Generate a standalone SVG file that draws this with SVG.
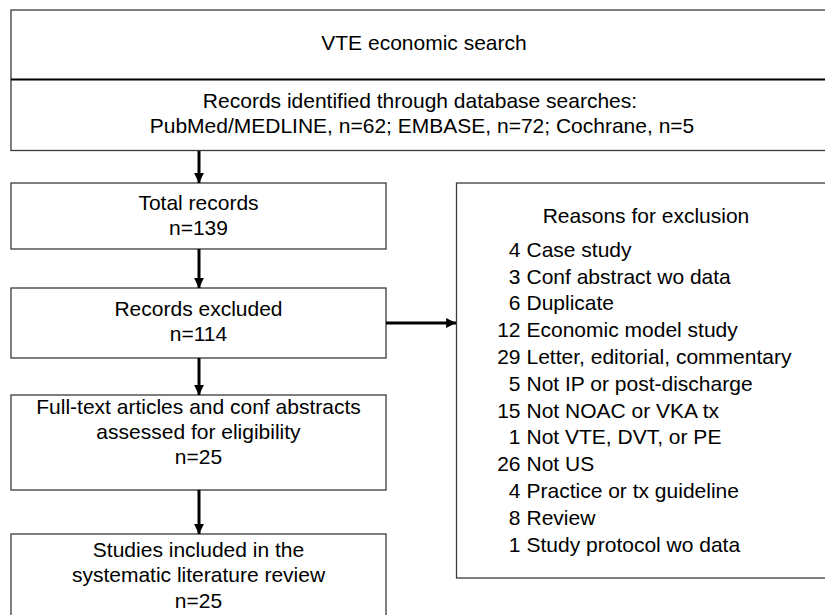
<svg xmlns="http://www.w3.org/2000/svg" width="825" height="615" viewBox="0 0 825 615">
<defs>
<style>
.box{fill:#fff;stroke:#3a3a3a;stroke-width:1.3}
.t{font-family:"Liberation Sans",Arial,sans-serif;font-size:21px;fill:#000}
.c{text-anchor:middle}
.e{text-anchor:end}
.conn{stroke:#000;stroke-width:3;fill:none}
</style>
<marker id="ah" viewBox="0 0 10 10" refX="10" refY="5" markerWidth="3.7" markerHeight="3.3" orient="auto" markerUnits="strokeWidth">
<path d="M0,0 L10,5 L0,10 Z" fill="#000"/>
</marker>
</defs>
<rect width="825" height="615" fill="#fff"/>
<g id="search">
<rect class="box" x="11" y="10" width="830" height="140.5"/>
<line x1="11" y1="79.5" x2="841" y2="79.5" stroke="#000" stroke-width="2"/>
<text class="t c" x="424" y="50">VTE economic search</text>
<text class="t c" x="420" y="108">Records identified through database searches:</text>
<text class="t c" x="422" y="133">PubMed/MEDLINE, n=62; EMBASE, n=72; Cochrane, n=5</text>
</g>
<g id="total">
<rect class="box" x="11" y="183" width="375" height="66"/>
<text class="t c" x="198.5" y="210">Total records</text>
<text class="t c" x="198.5" y="235">n=139</text>
</g>
<g id="excluded">
<rect class="box" x="11" y="288" width="375" height="70"/>
<text class="t c" x="198.5" y="316">Records excluded</text>
<text class="t c" x="198.5" y="340.5">n=114</text>
</g>
<g id="fulltext">
<rect class="box" x="11" y="395" width="375" height="95"/>
<text class="t c" x="198.5" y="414">Full-text articles and conf abstracts</text>
<text class="t c" x="198.5" y="439">assessed for eligibility</text>
<text class="t c" x="198.5" y="464">n=25</text>
</g>
<g id="included">
<rect class="box" x="11" y="534" width="375" height="100"/>
<text class="t c" x="198.5" y="557">Studies included in the</text>
<text class="t c" x="198.5" y="582">systematic literature review</text>
<text class="t c" x="198.5" y="607.5">n=25</text>
</g>
<g id="reasons">
<rect class="box" x="456.5" y="183" width="390" height="395"/>
<text class="t c" x="646" y="223">Reasons for exclusion</text>
<text class="t e" x="520.5" y="256.7">4</text><text class="t" x="526.5" y="256.7">Case study</text>
<text class="t e" x="520.5" y="283.5">3</text><text class="t" x="526.5" y="283.5">Conf abstract wo data</text>
<text class="t e" x="520.5" y="310.3">6</text><text class="t" x="526.5" y="310.3">Duplicate</text>
<text class="t e" x="520.5" y="337.1">12</text><text class="t" x="526.5" y="337.1">Economic model study</text>
<text class="t e" x="520.5" y="363.9">29</text><text class="t" x="526.5" y="363.9">Letter, editorial, commentary</text>
<text class="t e" x="520.5" y="390.7">5</text><text class="t" x="526.5" y="390.7">Not IP or post-discharge</text>
<text class="t e" x="520.5" y="417.5">15</text><text class="t" x="526.5" y="417.5">Not NOAC or VKA tx</text>
<text class="t e" x="520.5" y="444.3">1</text><text class="t" x="526.5" y="444.3">Not VTE, DVT, or PE</text>
<text class="t e" x="520.5" y="471.1">26</text><text class="t" x="526.5" y="471.1">Not US</text>
<text class="t e" x="520.5" y="497.9">4</text><text class="t" x="526.5" y="497.9">Practice or tx guideline</text>
<text class="t e" x="520.5" y="524.7">8</text><text class="t" x="526.5" y="524.7">Review</text>
<text class="t e" x="520.5" y="551.5">1</text><text class="t" x="526.5" y="551.5">Study protocol wo data</text>
</g>
<g id="connectors">
<line class="conn" x1="199" y1="151" x2="199" y2="183" marker-end="url(#ah)"/>
<line class="conn" x1="199" y1="249" x2="199" y2="288" marker-end="url(#ah)"/>
<line class="conn" x1="199" y1="358" x2="199" y2="395" marker-end="url(#ah)"/>
<line class="conn" x1="199" y1="490" x2="199" y2="534" marker-end="url(#ah)"/>
<line class="conn" x1="386" y1="323" x2="456" y2="323" marker-end="url(#ah)"/>
</g>
</svg>
